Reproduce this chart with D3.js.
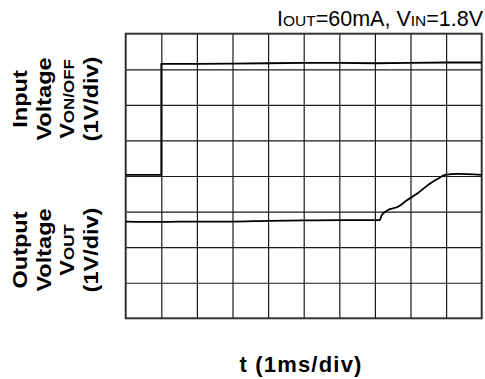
<!DOCTYPE html>
<html>
<head>
<meta charset="utf-8">
<script src="https://cdn.jsdelivr.net/npm/d3@7"></script>
<style>
  html, body { margin: 0; padding: 0; background: #fff; }
  svg { display: block; }
  text { font-family: "Liberation Sans", Arial, Helvetica, sans-serif; fill: #000; }
</style>
</head>
<body>
<svg id="chart" width="485" height="379"></svg>
<script>
// Scope screen: 10 horizontal divisions (1 ms/div), 8 vertical divisions (1 V/div)
const xDivs = d3.range(0, 11);
const yDivs = d3.range(0, 9);

// Input (VON/OFF) trace: time in divisions, level in divisions from the bottom edge
const inputTime  = [0, 1.0, 1.0, 2, 3, 4, 5, 6, 7, 8, 9, 10];
const inputLevel = [4.03, 4.03, 7.15, 7.15, 7.16, 7.17, 7.18, 7.18, 7.17, 7.18, 7.19, 7.19];

// Output (VOUT) trace
const outputTime  = [0, 1, 2, 3, 4, 5, 6, 7.14, 7.19, 7.33, 7.66, 7.89, 8.22, 8.55, 8.83, 8.97, 9.3, 10];
const outputLevel = [2.72, 2.71, 2.72, 2.72, 2.74, 2.75, 2.76, 2.76, 2.9, 3.02, 3.14, 3.31, 3.53, 3.79, 3.96, 4.03, 4.06, 4.03];

const conditionText = [["I", false], ["OUT", true], ["=60mA, V", false], ["IN", true], ["=1.8V", false]];
const inputLabel  = [[["Input", false]], [["Voltage", false]], [["V", false], ["ON/OFF", true]], [["(1V/div)", false]]];
const outputLabel = [[["Output", false]], [["Voltage", false]], [["V", false], ["OUT", true]], [["(1V/div)", false]]];
const timeLabel = "t (1ms/div)";

const svg = d3.select("#chart");
const plotLeft = 125.7, plotRight = 481.7, plotTop = 33.7, plotBottom = 318.3;

const x = d3.scaleLinear().domain([0, 10]).range([plotLeft, plotRight]);
const y = d3.scaleLinear().domain([0, 8]).range([plotBottom, plotTop]);

// Grid lines through the axis generators
const gx = svg.append("g")
  .attr("transform", `translate(0,${plotBottom})`)
  .call(d3.axisBottom(x).tickValues(xDivs.slice(1, -1)).tickSize(-(plotBottom - plotTop)).tickFormat(""));
const gy = svg.append("g")
  .attr("transform", `translate(${plotLeft},0)`)
  .call(d3.axisLeft(y).tickValues(yDivs.slice(1, -1)).tickSize(-(plotRight - plotLeft)).tickFormat(""));
[gx, gy].forEach(g => {
  g.select(".domain").remove();
  g.selectAll(".tick line").attr("stroke", "#1a1a1a").attr("stroke-width", 1.2);
});

// Frame
svg.append("rect")
  .attr("x", plotLeft).attr("y", plotTop)
  .attr("width", plotRight - plotLeft).attr("height", plotBottom - plotTop)
  .attr("fill", "none").attr("stroke", "#333").attr("stroke-width", 2);

// Traces
svg.append("path")
  .datum(d3.zip(inputTime, inputLevel))
  .attr("d", d3.line().x(d => x(d[0])).y(d => y(d[1])))
  .attr("fill", "none").attr("stroke", "#000").attr("stroke-width", 1.8);
svg.append("path")
  .datum(d3.zip(outputTime, outputLevel))
  .attr("d", d3.line().curve(d3.curveMonotoneX).x(d => x(d[0])).y(d => y(d[1])))
  .attr("fill", "none").attr("stroke", "#000").attr("stroke-width", 1.8);

// Text with small-caps style subscripts
function runs(textSel, parts, size) {
  parts.forEach(([s, small]) => {
    textSel.append("tspan").text(s).attr("font-size", small ? size * 0.72 : size);
  });
}

const cond = svg.append("text")
  .attr("x", 483).attr("y", 26)
  .attr("text-anchor", "end");
runs(cond, conditionText, 21.5);

// Rotated channel labels, slightly widened along the reading direction
function sideLabel(lines, cy) {
  const baselines = [27, 50.5, 74, 97.5];
  lines.forEach((parts, i) => {
    const t = svg.append("text")
      .attr("transform", `translate(${baselines[i]},${cy}) rotate(-90) scale(1.12,1)`)
      .attr("text-anchor", "middle")
      .attr("font-weight", "bold");
    runs(t, parts, 21);
  });
}
sideLabel(inputLabel, 99);
sideLabel(outputLabel, 250);

svg.append("text")
  .attr("x", 301).attr("y", 372)
  .attr("text-anchor", "middle")
  .attr("font-weight", "bold")
  .attr("font-size", 22)
  .attr("letter-spacing", 1.2)
  .text(timeLabel);
</script>
</body>
</html>
